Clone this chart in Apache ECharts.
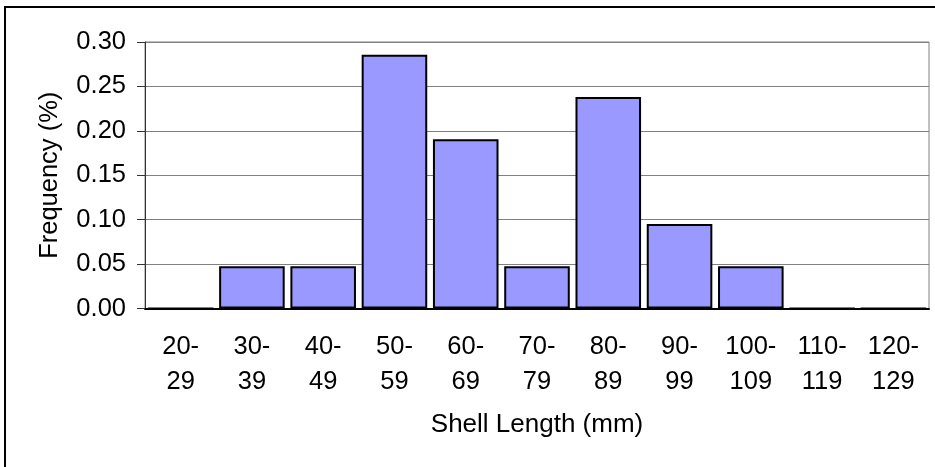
<!DOCTYPE html>
<html>
<head>
<meta charset="utf-8">
<script src="https://cdn.jsdelivr.net/npm/echarts@6/dist/echarts.min.js"></script>
<style>
  html, body { margin: 0; padding: 0; background: #fff; }
  #chart { width: 935px; height: 467px; }
</style>
</head>
<body>
<div id="chart"></div>
<script>
// Shell length classes (mm) and the share of shells falling in each class
const lengthClasses = ['20-\n29', '30-\n39', '40-\n49', '50-\n59', '60-\n69', '70-\n79',
                       '80-\n89', '90-\n99', '100-\n109', '110-\n119', '120-\n129'];
const frequency = [0, 0.0476, 0.0476, 0.2857, 0.1905, 0.0476, 0.2381, 0.0952, 0.0476, 0, 0];
const yTicks = { min: 0, max: 0.30, step: 0.05 };

const FONT = 'Liberation Sans, Arial, sans-serif';
const chart = echarts.init(document.getElementById('chart'));

chart.setOption({
  animation: false,
  backgroundColor: '#ffffff',
  grid: {
    left: 145, right: 6, top: 42, bottom: 158.5,
    show: true, borderColor: '#808080', borderWidth: 1
  },
  graphic: [
    { type: 'line', shape: { x1: 5, y1: 7, x2: 935, y2: 7 },
      style: { stroke: '#000', lineWidth: 2 }, silent: true },
    { type: 'line', shape: { x1: 5, y1: 6, x2: 5, y2: 467 },
      style: { stroke: '#000', lineWidth: 2 }, silent: true }
  ],
  xAxis: {
    type: 'category',
    data: lengthClasses,
    name: 'Shell Length (mm)',
    nameLocation: 'middle',
    nameGap: 103,
    nameTextStyle: { fontFamily: FONT, fontSize: 26, color: '#000' },
    axisLine: { show: true, lineStyle: { color: '#000', width: 2 } },
    axisTick: { show: false },
    axisLabel: {
      interval: 0, margin: 21, fontFamily: FONT, fontSize: 25.5,
      lineHeight: 35, color: '#000', align: 'center'
    },
    splitLine: { show: false }
  },
  yAxis: {
    type: 'value',
    min: yTicks.min, max: yTicks.max, interval: yTicks.step,
    name: 'Frequency (%)',
    nameLocation: 'middle',
    nameGap: 82,
    nameRotate: 90,
    nameTextStyle: { fontFamily: FONT, fontSize: 25.5, color: '#000' },
    axisLine: { show: true, lineStyle: { color: '#333', width: 1 } },
    axisTick: { show: true, inside: false, length: 8, lineStyle: { color: '#333' } },
    axisLabel: {
      margin: 19, fontFamily: FONT, fontSize: 25.5, color: '#000',
      formatter: v => v.toFixed(2)
    },
    splitLine: { show: true, lineStyle: { color: '#808080', width: 1 } }
  },
  series: [{
    type: 'bar',
    data: frequency,
    barCategoryGap: '8%',
    itemStyle: { color: '#9999ff', borderColor: '#000', borderWidth: 2 }
  }]
});
</script>
</body>
</html>
